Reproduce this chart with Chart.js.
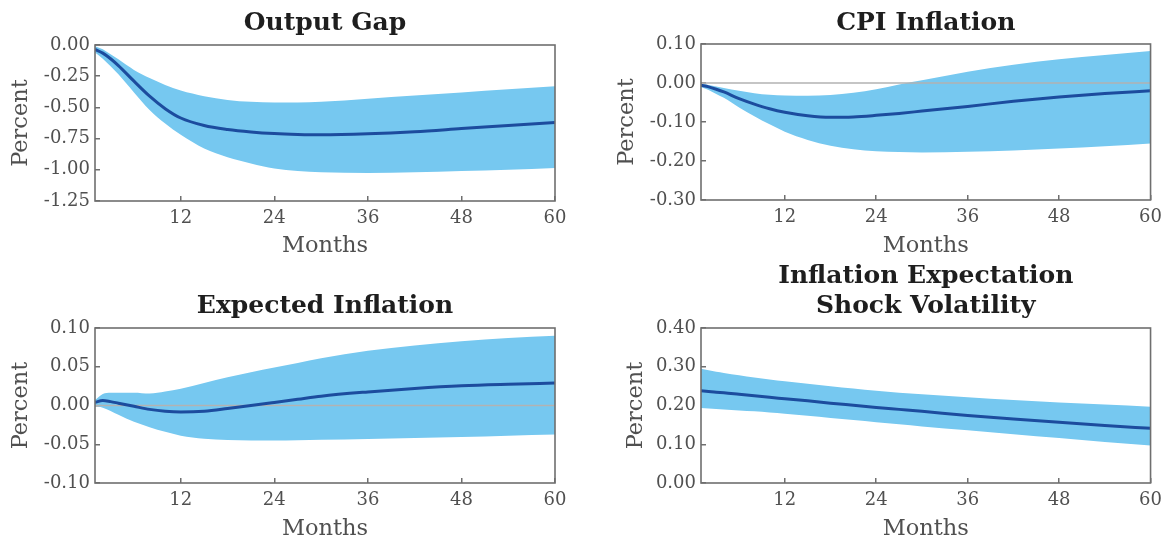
<!DOCTYPE html>
<html>
<head>
<meta charset="utf-8">
<script src="https://cdn.jsdelivr.net/npm/chart.js@4.4.1/dist/chart.umd.min.js"></script>
<style>
html,body{margin:0;padding:0;background:#fff;overflow:hidden;width:1174px;height:538px;}
.panel{position:absolute;}
</style>
</head>
<body>
<div class="panel" style="left:0;top:0;width:587px;height:260px"><canvas id="c1"></canvas></div>
<div class="panel" style="left:587px;top:0;width:587px;height:260px"><canvas id="c2"></canvas></div>
<div class="panel" style="left:0;top:260px;width:587px;height:278px"><canvas id="c3"></canvas></div>
<div class="panel" style="left:587px;top:260px;width:587px;height:278px"><canvas id="c4"></canvas></div>
<script>
// ---- data ----
const months = [1, 2, 3, 4, 6, 8, 10, 12, 15, 18, 21, 24, 27, 30, 36, 42, 48, 54, 60];
const xTicks = [12, 24, 36, 48, 60];

const gapTitle = 'Output Gap';
const gapMedian = [-0.035, -0.065, -0.11, -0.165, -0.29, -0.41, -0.51, -0.585, -0.645, -0.677, -0.697, -0.71, -0.717, -0.72, -0.712, -0.695, -0.67, -0.645, -0.62];
const gapUpper  = [-0.01, -0.035, -0.075, -0.115, -0.20, -0.265, -0.32, -0.365, -0.41, -0.44, -0.455, -0.46, -0.46, -0.455, -0.43, -0.405, -0.38, -0.355, -0.33];
const gapLower  = [-0.06, -0.11, -0.17, -0.235, -0.38, -0.52, -0.63, -0.72, -0.83, -0.90, -0.95, -0.99, -1.01, -1.02, -1.025, -1.02, -1.01, -1.00, -0.985];
const gapTicks  = [0, -0.25, -0.5, -0.75, -1.0, -1.25];

const cpiTitle = 'CPI Inflation';
const cpiMedian = [-0.006, -0.010, -0.016, -0.023, -0.040, -0.054, -0.066, -0.075, -0.084, -0.088, -0.087, -0.083, -0.078, -0.072, -0.060, -0.047, -0.036, -0.027, -0.020];
const cpiUpper  = [-0.002, -0.005, -0.009, -0.013, -0.020, -0.026, -0.030, -0.032, -0.033, -0.031, -0.025, -0.016, -0.004, 0.007, 0.029, 0.047, 0.061, 0.072, 0.082];
const cpiLower  = [-0.010, -0.018, -0.028, -0.038, -0.063, -0.085, -0.106, -0.125, -0.146, -0.161, -0.170, -0.175, -0.177, -0.178, -0.176, -0.173, -0.168, -0.162, -0.155];
const cpiTicks  = [0.1, 0, -0.1, -0.2, -0.3];

const expTitle = 'Expected Inflation';
const expMedian = [0.004, 0.0065, 0.005, 0.003, -0.001, -0.005, -0.0075, -0.0085, -0.0075, -0.004, 0.000, 0.004, 0.008, 0.012, 0.0175, 0.022, 0.0255, 0.0275, 0.029];
const expUpper  = [0.007, 0.015, 0.0165, 0.0165, 0.0165, 0.0155, 0.018, 0.0215, 0.029, 0.0365, 0.043, 0.049, 0.055, 0.061, 0.0705, 0.0775, 0.083, 0.087, 0.090];
const expLower  = [0.000, -0.003, -0.007, -0.012, -0.021, -0.028, -0.034, -0.039, -0.0428, -0.0445, -0.045, -0.045, -0.0447, -0.0443, -0.0432, -0.042, -0.0407, -0.039, -0.0375];
const expTicks  = [0.1, 0.05, 0, -0.05, -0.1];

const volTitle = ['Inflation Expectation', 'Shock Volatility'];
const volMedian = [0.238, 0.236, 0.234, 0.233, 0.229, 0.225, 0.221, 0.2175, 0.212, 0.206, 0.2005, 0.195, 0.190, 0.185, 0.1745, 0.165, 0.1565, 0.1485, 0.141];
const volUpper  = [0.295, 0.291, 0.287, 0.284, 0.278, 0.272, 0.267, 0.2625, 0.256, 0.250, 0.244, 0.238, 0.233, 0.229, 0.221, 0.214, 0.208, 0.2025, 0.197];
const volLower  = [0.1935, 0.192, 0.191, 0.190, 0.187, 0.185, 0.182, 0.179, 0.1735, 0.168, 0.1625, 0.157, 0.1515, 0.146, 0.136, 0.126, 0.116, 0.106, 0.0965];
const volTicks  = [0.4, 0.3, 0.2, 0.1, 0];

// ---- style ----
const BAND = '#76C8F0';
const LINE = '#1C4C9E';
const FRAME = '#6f6f6f';
const ZERO = '#b2b2b2';
const LABEL = '#505050';
const TITLE = '#1e1e1e';
const FONT = "'DejaVu Serif', serif";

function pts(vals) { return months.map((m, i) => ({ x: m, y: vals[i] })); }

const framePlugin = {
  id: 'frame',
  afterDatasetDraw(chart, args, opts) {
    if (opts.zero && args.index === 1) {
      const { ctx, chartArea: a } = chart;
      const y = chart.scales.y.getPixelForValue(0);
      ctx.save();
      ctx.strokeStyle = ZERO;
      ctx.lineWidth = 1.5;
      ctx.beginPath();
      ctx.moveTo(a.left, y);
      ctx.lineTo(a.right, y);
      ctx.stroke();
      ctx.restore();
    }
  },
  afterDatasetsDraw(chart) {
    const { ctx, chartArea: a } = chart;
    ctx.save();
    ctx.strokeStyle = FRAME;
    ctx.lineWidth = 1.6;
    ctx.strokeRect(a.left, a.top, a.right - a.left, a.bottom - a.top);
    ctx.restore();
  }
};

function makePanel(id, c) {
  const gridOpts = { display: true, drawOnChartArea: false, drawTicks: true, tickLength: -5, color: FRAME, lineWidth: 1.5 };
  new Chart(document.getElementById(id), {
    type: 'line',
    data: {
      datasets: [
        { data: pts(c.median), borderColor: LINE, borderWidth: 3, pointRadius: 0, fill: false, cubicInterpolationMode: 'monotone' },
        { data: pts(c.upper), borderColor: 'transparent', borderWidth: 0, pointRadius: 0, fill: false, cubicInterpolationMode: 'monotone' },
        { data: pts(c.lower), borderColor: 'transparent', borderWidth: 0, pointRadius: 0, fill: '-1', backgroundColor: BAND, cubicInterpolationMode: 'monotone' }
      ]
    },
    options: {
      responsive: true,
      maintainAspectRatio: false,
      animation: false,
      events: [],
      layout: { padding: { left: 0, right: c.padRight, top: 0, bottom: 0 } },
      plugins: {
        legend: { display: false },
        tooltip: { enabled: false },
        title: {
          display: true, text: c.title, fullSize: false, color: TITLE,
          font: { family: FONT, weight: 'bold', size: 25, lineHeight: 1.2 },
          padding: { top: c.tPadTop, bottom: c.tPadBottom }
        },
        frame: { zero: c.zero }
      },
      scales: {
        x: {
          type: 'linear', min: 1, max: 60,
          afterBuildTicks: s => { s.ticks = xTicks.map(v => ({ value: v })); },
          afterFit: s => { s.height = c.xHeight; },
          grid: gridOpts,
          border: { display: false },
          ticks: { font: { family: FONT, size: 18 }, color: LABEL, padding: 12, maxRotation: 0, autoSkip: false, callback: v => String(v) },
          title: { display: true, text: 'Months', color: LABEL, font: { family: FONT, size: 22.5, lineHeight: 0.8 }, padding: { top: 0, bottom: c.xtPad } }
        },
        y: {
          type: 'linear', min: c.ymin, max: c.ymax,
          afterBuildTicks: s => { s.ticks = c.ticks.map(v => ({ value: v })); },
          afterFit: s => { s.width = c.yWidth; },
          grid: gridOpts,
          border: { display: false },
          ticks: { font: { family: FONT, size: 18 }, color: LABEL, padding: 10, autoSkip: false, callback: v => Number(v).toFixed(2) },
          title: { display: true, text: 'Percent', color: LABEL, font: { family: FONT, size: 22.5, lineHeight: 0.8 }, padding: { top: c.ytPad, bottom: 0 } }
        }
      }
    },
    plugins: [framePlugin]
  });
}

makePanel('c1', { title: gapTitle, median: gapMedian, upper: gapUpper, lower: gapLower, ticks: gapTicks, ymin: -1.25, ymax: 0,
  zero: false, padRight: 32, yWidth: 95, xHeight: 59, tPadTop: 8.35, tPadBottom: 6.65, xtPad: 4.8, ytPad: 12 });
makePanel('c2', { title: cpiTitle, median: cpiMedian, upper: cpiUpper, lower: cpiLower, ticks: cpiTicks, ymin: -0.3, ymax: 0.1,
  zero: true, padRight: 13, yWidth: 114, xHeight: 60, tPadTop: 8.35, tPadBottom: 5.65, xtPad: 4.8, ytPad: 31 });
makePanel('c3', { title: expTitle, median: expMedian, upper: expUpper, lower: expLower, ticks: expTicks, ymin: -0.1, ymax: 0.1,
  zero: true, padRight: 32, yWidth: 95, xHeight: 55, tPadTop: 31.05, tPadBottom: 6.95, xtPad: 0, ytPad: 12 });
makePanel('c4', { title: volTitle, median: volMedian, upper: volUpper, lower: volLower, ticks: volTicks, ymin: 0, ymax: 0.4,
  zero: false, padRight: 13, yWidth: 114, xHeight: 55, tPadTop: 1.05, tPadBottom: 6.95, xtPad: 0, ytPad: 40 });
</script>
</body>
</html>
